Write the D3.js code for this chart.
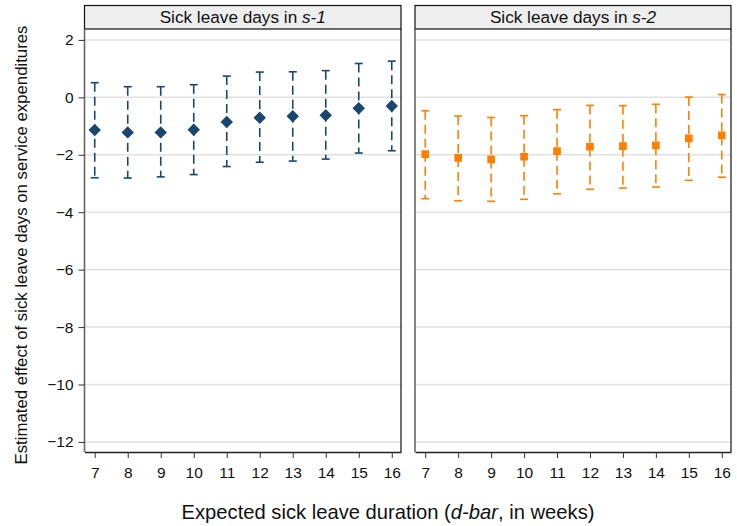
<!DOCTYPE html>
<html><head><meta charset="utf-8">
<script src="https://cdn.jsdelivr.net/npm/d3@7"></script>
<style>body{margin:0;background:#fff;} text{font-family:Arial,"Liberation Sans",sans-serif;}</style>
</head><body>
<svg id="c" width="737" height="526"></svg>
<script>
const weeks = [7,8,9,10,11,12,13,14,15,16];
const s1Est = [-1.14,-1.22,-1.22,-1.13,-0.86,-0.71,-0.66,-0.62,-0.38,-0.30];
const s1Lo  = [-2.80,-2.81,-2.77,-2.69,-2.41,-2.26,-2.22,-2.15,-1.94,-1.86];
const s1Hi  = [0.51,0.37,0.37,0.44,0.74,0.88,0.89,0.93,1.18,1.26];
const s2Est = [-1.98,-2.11,-2.16,-2.07,-1.87,-1.72,-1.70,-1.67,-1.43,-1.32];
const s2Lo  = [-3.53,-3.60,-3.62,-3.55,-3.36,-3.20,-3.16,-3.12,-2.89,-2.78];
const s2Hi  = [-0.47,-0.65,-0.70,-0.64,-0.43,-0.28,-0.29,-0.24,0.01,0.10];
const yTicks = [2,0,-2,-4,-6,-8,-10,-12];
const panels = [
  {title:"Sick leave days in ", it:"s-1", est:s1Est, lo:s1Lo, hi:s1Hi, color:"#1a476f", shape:d3.symbolDiamond2, x0:84.5, x1:401},
  {title:"Sick leave days in ", it:"s-2", est:s2Est, lo:s2Lo, hi:s2Hi, color:"#ff8000", shape:d3.symbolSquare2, x0:415, x1:731}
];
const svg = d3.select("#c");
const plotTop = 29, plotBottom = 452, headTop = 5.5;
const y = d3.scaleLinear().domain([-12.35, 2.38]).range([plotBottom, plotTop]);
const FF = "Arial, 'Liberation Sans', sans-serif";

panels.forEach((p, pi) => {
  const x = d3.scaleLinear().domain([6.69, 16.28]).range([p.x0, p.x1]);
  const g = svg.append("g");
  g.selectAll(".grid").data(yTicks).join("line")
    .attr("x1", p.x0).attr("x2", p.x1)
    .attr("y1", d => y(d)).attr("y2", d => y(d))
    .attr("stroke", "#e1e1e1").attr("stroke-width", 1.5);
  g.append("rect").attr("x", p.x0).attr("y", headTop).attr("width", p.x1 - p.x0).attr("height", plotTop - headTop)
    .attr("fill", "#eeeeee").attr("stroke", "#111").attr("stroke-width", 1.2);
  const t = g.append("text").attr("x", (p.x0 + p.x1) / 2).attr("y", 23).attr("text-anchor", "middle")
    .attr("font-size", 17.2).attr("fill", "#111");
  t.append("tspan").text(p.title);
  t.append("tspan").attr("font-style", "italic").text(p.it);
  g.append("line").attr("x1", p.x1).attr("x2", p.x1).attr("y1", plotTop).attr("y2", plotBottom).attr("stroke", "#111").attr("stroke-width", 1.2);
  g.append("line").attr("x1", p.x0).attr("x2", p.x0).attr("y1", plotTop).attr("y2", plotBottom).attr("stroke", "#666").attr("stroke-width", 1.6);
  const xa = g.append("g").attr("transform", `translate(0,${plotBottom})`)
    .call(d3.axisBottom(x).tickValues(weeks).tickSize(6).tickPadding(9).tickSizeOuter(0));
  xa.attr("font-size", 15.5).attr("font-family", FF);
  xa.select(".domain").attr("stroke", "#222").attr("stroke-width", 1.3);
  xa.selectAll(".tick line").attr("stroke", "#333");
  xa.selectAll(".tick text").attr("fill", "#111");
  if (pi === 0) {
    const ya = g.append("g").attr("transform", `translate(${p.x0},0)`)
      .call(d3.axisLeft(y).tickValues(yTicks).tickSize(6).tickPadding(5).tickSizeOuter(0));
    ya.attr("font-size", 15.5).attr("font-family", FF);
    ya.select(".domain").remove();
    ya.selectAll(".tick line").attr("stroke", "#333");
    ya.selectAll(".tick text").attr("fill", "#111");
  }
  const data = weeks.map((w, i) => ({w, e: p.est[i], lo: p.lo[i], hi: p.hi[i]}));
  g.selectAll(".eb").data(data).join("line")
    .attr("x1", d => x(d.w)).attr("x2", d => x(d.w))
    .attr("y1", d => y(d.hi)).attr("y2", d => y(d.lo))
    .attr("stroke", p.color).attr("stroke-width", 1.6).attr("stroke-dasharray", "9,5");
  ["hi", "lo"].forEach(k => {
    g.selectAll(".cap" + k).data(data).join("line")
      .attr("x1", d => x(d.w) - 4).attr("x2", d => x(d.w) + 4)
      .attr("y1", d => y(d[k])).attr("y2", d => y(d[k]))
      .attr("stroke", p.color).attr("stroke-width", 1.6);
  });
  g.selectAll(".pt").data(data).join("path")
    .attr("transform", d => `translate(${x(d.w)},${y(d.e)})`)
    .attr("d", d3.symbol().type(p.shape).size(pi === 0 ? 70 : 50))
    .attr("fill", p.color).attr("stroke", p.color).attr("stroke-width", 1.4);
});

svg.append("text").attr("transform", "translate(27,245) rotate(-90)").attr("text-anchor", "middle")
  .attr("font-size", 16.8).attr("fill", "#111").text("Estimated effect of sick leave days on service expenditures");
const xt = svg.append("text").attr("x", 388).attr("y", 519).attr("text-anchor", "middle").attr("font-size", 20.2).attr("fill", "#111");
xt.append("tspan").text("Expected sick leave duration (");
xt.append("tspan").attr("font-style", "italic").text("d-bar");
xt.append("tspan").text(", in weeks)");
</script>
</body></html>
